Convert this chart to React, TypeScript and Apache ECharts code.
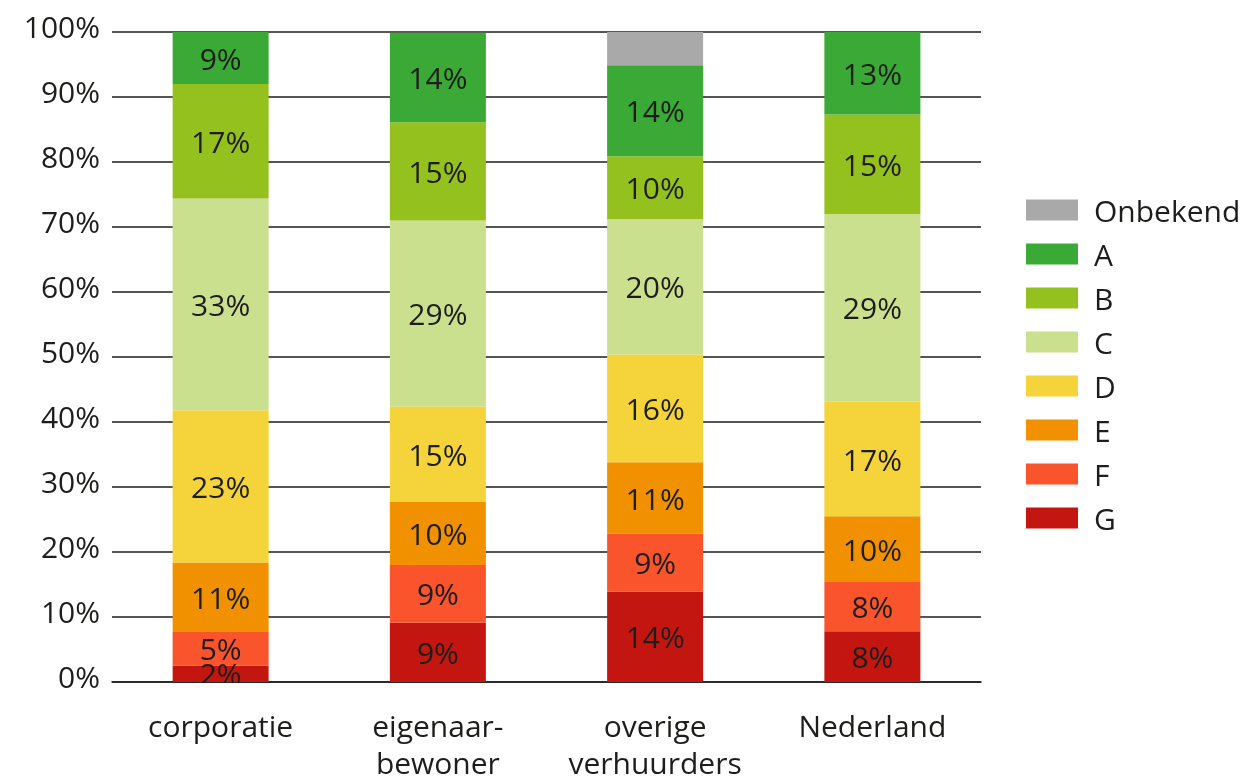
import React, { useEffect, useRef } from "react";
import * as echarts from "echarts";

const categories = ["corporatie", "eigenaar-\nbewoner", "overige\nverhuurders", "Nederland"];
const yTicks = [0, 10, 20, 30, 40, 50, 60, 70, 80, 90, 100];

// measured segment sizes (percent of total), per category
const seriesNames = ["G", "F", "E", "D", "C", "B", "A", "Onbekend"];
const valG = [2.5, 9.1, 13.9, 7.8];
const valF = [5.2, 8.9, 8.9, 7.6];
const valE = [10.7, 9.7, 11.0, 10.1];
const valD = [23.4, 14.7, 16.6, 17.6];
const valC = [32.6, 28.6, 20.8, 28.9];
const valB = [17.6, 15.1, 9.7, 15.3];
const valA = [8.0, 13.8, 14.0, 12.7];
const valOnbekend = [0, 0, 5.1, 0];

// printed labels
const lblG = ["2%", "9%", "14%", "8%"];
const lblF = ["5%", "9%", "9%", "8%"];
const lblE = ["11%", "10%", "11%", "10%"];
const lblD = ["23%", "15%", "16%", "17%"];
const lblC = ["33%", "29%", "20%", "29%"];
const lblB = ["17%", "15%", "10%", "15%"];
const lblA = ["9%", "14%", "14%", "13%"];
const lblOnbekend = ["", "", "", ""];

const legendOrder = ["Onbekend", "A", "B", "C", "D", "E", "F", "G"];

const colors: Record<string, string> = {
  Onbekend: "#a9a9a9",
  A: "#3aa935",
  B: "#95c11f",
  C: "#cbe08f",
  D: "#f5d43b",
  E: "#f29100",
  F: "#fa542d",
  G: "#c41610",
};

const FONT = "'Open Sans', sans-serif";
const TXT = "#1d1d1b";

export default function App() {
  const ref = useRef<HTMLDivElement>(null);
  useEffect(() => {
    if (!ref.current) return;
    const chart = echarts.init(ref.current, undefined, { renderer: "svg" });
    const values = [valG, valF, valE, valD, valC, valB, valA, valOnbekend];
    const labels = [lblG, lblF, lblE, lblD, lblC, lblB, lblA, lblOnbekend];
    const series = seriesNames.map((name, si) => ({
      name,
      type: "bar",
      stack: "total",
      barWidth: 96,
      itemStyle: { color: colors[name] },
      label: {
        show: true,
        position: "inside",
        fontFamily: FONT,
        fontSize: 30,
        color: TXT,
        formatter: (p: any) => labels[si][p.dataIndex],
      },
      data: values[si].map((v) => (v > 0 ? v : null)),
    }));
    chart.setOption({
      animation: false,
      textStyle: { fontFamily: FONT },
      grid: { left: 112, width: 869, top: 32, height: 656 },
      legend: {
        orient: "vertical",
        left: 1021,
        top: 190,
        itemWidth: 52,
        itemHeight: 21,
        itemGap: 14,
        icon: "rect",
        data: legendOrder,
        selectedMode: false,
        textStyle: {
          fontFamily: FONT,
          fontSize: 30,
          color: TXT,
          padding: [0, 0, 0, 11],
        },
      },
      xAxis: {
        type: "category",
        data: categories,
        axisTick: { show: false },
        axisLine: { show: true, lineStyle: { color: "#1d1d1b", width: 1.5 } },
        axisLabel: {
          fontFamily: FONT,
          fontSize: 30,
          color: TXT,
          lineHeight: 37,
          margin: 25,
          interval: 0,
        },
      },
      yAxis: {
        type: "value",
        min: yTicks[0],
        max: yTicks[yTicks.length - 1],
        interval: 10,
        axisLine: { show: false },
        axisTick: { show: false },
        axisLabel: {
          fontFamily: FONT,
          fontSize: 30,
          color: TXT,
          margin: 12,
          verticalAlign: "bottom",
          lineHeight: 12,
          formatter: "{value}%",
        },
        splitLine: { lineStyle: { color: "#1d1d1b", width: 1.5 } },
      },
      series,
    });
    // mask the part of bar labels that spills below the baseline
    const base = chart.convertToPixel({ gridIndex: 0 }, [0, 0]) as number[];
    chart.setOption({
      graphic: [
        {
          type: "rect",
          z: 100,
          shape: { x: 112, y: base[1] + 1, width: 869, height: 14 },
          style: { fill: "#ffffff" },
        },
      ],
    });
    return () => chart.dispose();
  }, []);
  return (
    <div
      ref={ref}
      style={{
        position: "fixed",
        left: 0,
        top: 0,
        width: 1247,
        height: 781,
        overflow: "hidden",
      }}
    />
  );
}
